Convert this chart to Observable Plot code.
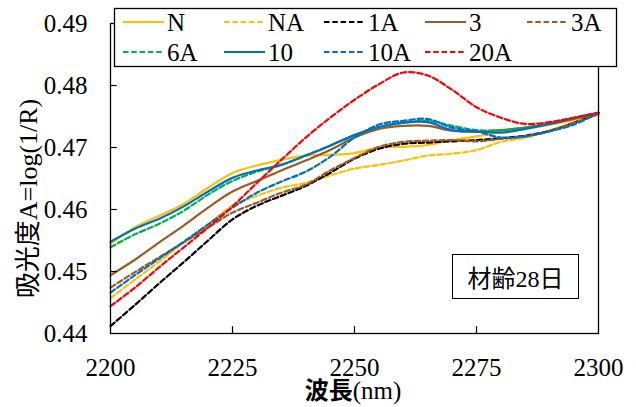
<!DOCTYPE html>
<html>
<head>
<meta charset="utf-8">
<script src="https://cdn.jsdelivr.net/npm/d3@7"></script>
<script src="https://cdn.jsdelivr.net/npm/@observablehq/plot@0.6"></script>
<style>
  html, body { margin: 0; padding: 0; background: #fff; }
  #wrap { position: relative; width: 636px; height: 407px; font-family: "Liberation Serif", "Times New Roman", "DejaVu Serif", serif, "Noto Sans CJK JP"; }
  #wrap svg { display: block; }
  .overlay { position: absolute; }
</style>
</head>
<body>
<div id="wrap"></div>
<script>
// ---- data ----
const wavelengths = [2200,2205,2210,2215,2220,2225,2230,2235,2240,2245,2250,2255,2260,2265,2270,2275,2280,2285,2290,2295,2300];
const seriesNames = ["N","NA","1A","3","3A","6A","10","10A","20A"];
const seriesColors = ["#FFC000","#FFC000","#000000","#9E5A24","#9E5A24","#00B050","#0070C0","#0070C0","#FF0000"];
const seriesDashed = [false,true,true,false,true,true,false,true,true];

const vN   = [0.4545,0.4571,0.4590,0.4609,0.4635,0.4659,0.4671,0.4680,0.4687,0.4688,0.4691,0.4700,0.4701,0.4704,0.4712,0.4718,0.4725,0.4730,0.4737,0.4745,0.4756];
const vNA  = [0.4457,0.4487,0.4516,0.4547,0.4576,0.4606,0.4622,0.4635,0.4643,0.4655,0.4666,0.4672,0.4679,0.4687,0.4690,0.4696,0.4709,0.4716,0.4727,0.4740,0.4753];
const v1A  = [0.4412,0.4446,0.4481,0.4515,0.4550,0.4584,0.4606,0.4622,0.4638,0.4659,0.4682,0.4698,0.4706,0.4708,0.4710,0.4712,0.4715,0.4719,0.4727,0.4740,0.4756];
const v3   = [0.4494,0.4519,0.4547,0.4574,0.4603,0.4629,0.4646,0.4663,0.4679,0.4696,0.4716,0.4730,0.4735,0.4735,0.4727,0.4725,0.4728,0.4732,0.4738,0.4746,0.4756];
const v3A  = [0.4474,0.4499,0.4523,0.4547,0.4571,0.4595,0.4611,0.4627,0.4640,0.4663,0.4683,0.4701,0.4709,0.4711,0.4712,0.4710,0.4714,0.4718,0.4727,0.4740,0.4754];
const v6A  = [0.4539,0.4560,0.4577,0.4598,0.4624,0.4646,0.4661,0.4672,0.4687,0.4703,0.4720,0.4733,0.4740,0.4743,0.4735,0.4728,0.4728,0.4732,0.4740,0.4748,0.4756];
const v10  = [0.4548,0.4569,0.4585,0.4605,0.4629,0.4651,0.4663,0.4672,0.4687,0.4703,0.4720,0.4733,0.4740,0.4741,0.4728,0.4726,0.4724,0.4730,0.4738,0.4748,0.4756];
const v10A = [0.4466,0.4494,0.4521,0.4548,0.4576,0.4603,0.4627,0.4645,0.4661,0.4685,0.4716,0.4737,0.4743,0.4746,0.4732,0.4726,0.4716,0.4718,0.4726,0.4737,0.4756];
const v20A = [0.4444,0.4474,0.4507,0.4539,0.4571,0.4605,0.4643,0.4680,0.4716,0.4748,0.4777,0.4802,0.4821,0.4816,0.4793,0.4765,0.4748,0.4738,0.4741,0.4748,0.4756];
const seriesValues = [vN,vNA,v1A,v3,v3A,v6A,v10,v10A,v20A];

const xTicks = [2200,2225,2250,2275,2300];
const yTicks = [0.44,0.45,0.46,0.47,0.48,0.49];
const xTitleCJK = "波長";
const xTitleUnit = "(nm)";
const yTitle = "吸光度A=log(1/R)";
const annotation = "材齢28日";

// ---- build ----
const FONT = '"Liberation Serif", "Times New Roman", "DejaVu Serif", serif, "Noto Sans CJK JP"';
const lineMarks = seriesNames.map((name, si) => {
  const rows = wavelengths.map((w, i) => ({w, v: seriesValues[si][i]}));
  return Plot.line(rows, {
    x: "w", y: "v", stroke: seriesColors[si], strokeWidth: 2.2,
    strokeDasharray: seriesDashed[si] ? "5.5,2.8" : null,
    curve: "catmull-rom"
  });
});

const chart = Plot.plot({
  width: 636, height: 407,
  marginLeft: 110, marginRight: 38, marginTop: 23, marginBottom: 74,
  x: {domain: [2200, 2300]},
  y: {domain: [0.44, 0.49]},
  style: {fontFamily: FONT, fontSize: "25px", color: "#000", background: "#fff"},
  marks: [
    ...lineMarks,
    Plot.ruleX(xTicks.slice(1, -1), {y1: 0.44, y2: 0.44 + 0.0011, stroke: "#000", strokeWidth: 1.2}),
    Plot.ruleY(yTicks.slice(1, -1), {x1: 2200, x2: 2201.4, stroke: "#000", strokeWidth: 1.2}),
    Plot.frame({stroke: "#000", strokeWidth: 1.3}),
    Plot.axisX({ticks: xTicks, tickSize: 0, tickPadding: 25, tickFormat: d => String(d), label: null, fontSize: 25}),
    Plot.axisY({ticks: yTicks, tickSize: 0, tickPadding: 23, tickFormat: d => d.toFixed(2), label: null, fontSize: 25}),
    Plot.text([yTitle], {text: d => d, frameAnchor: "left", rotate: -90, dx: -82, dy: 20, fontSize: 26, textAnchor: "middle", lineAnchor: "middle"})
  ]
});

const wrap = document.getElementById("wrap");
wrap.appendChild(chart);

// x title
const xt = document.createElement("div");
xt.className = "overlay";
xt.style.cssText = "left:253px; width:200px; top:378px; text-align:center; font-size:25px; line-height:26px;";
xt.innerHTML = `<span style="font-weight:bold;font-size:24px">${xTitleCJK}</span><span>${xTitleUnit}</span>`;
wrap.appendChild(xt);

// annotation box
const ann = document.createElement("div");
ann.className = "overlay";
ann.style.cssText = "left:452px; top:254px; width:125px; height:43px; border:1.3px solid #000; background:#fff; display:flex; align-items:center; justify-content:center; font-size:24px;";
ann.textContent = annotation;
wrap.appendChild(ann);

// legend
const leg = d3.create("svg").attr("width", 636).attr("height", 80)
  .style("position", "absolute").style("left", "0px").style("top", "0px")
  .style("font-family", FONT).style("font-size", "25px");
leg.append("rect").attr("x", 114.5).attr("y", 8.5).attr("width", 502).attr("height", 58)
  .attr("fill", "#fff").attr("stroke", "#000").attr("stroke-width", 1.3);
const colX = [123, 224, 324, 425, 527];
const rowY = [22, 52];
seriesNames.forEach((name, i) => {
  const cx = colX[i % 5], cy = rowY[Math.floor(i / 5)];
  leg.append("line").attr("x1", cx).attr("x2", cx + 41).attr("y1", cy).attr("y2", cy)
    .attr("stroke", seriesColors[i]).attr("stroke-width", 2.2)
    .attr("stroke-dasharray", seriesDashed[i] ? "5.5,2.8" : null);
  leg.append("text").attr("x", cx + 44).attr("y", cy).attr("dy", "0.35em").text(name);
});
wrap.appendChild(leg.node());
</script>
</body>
</html>
